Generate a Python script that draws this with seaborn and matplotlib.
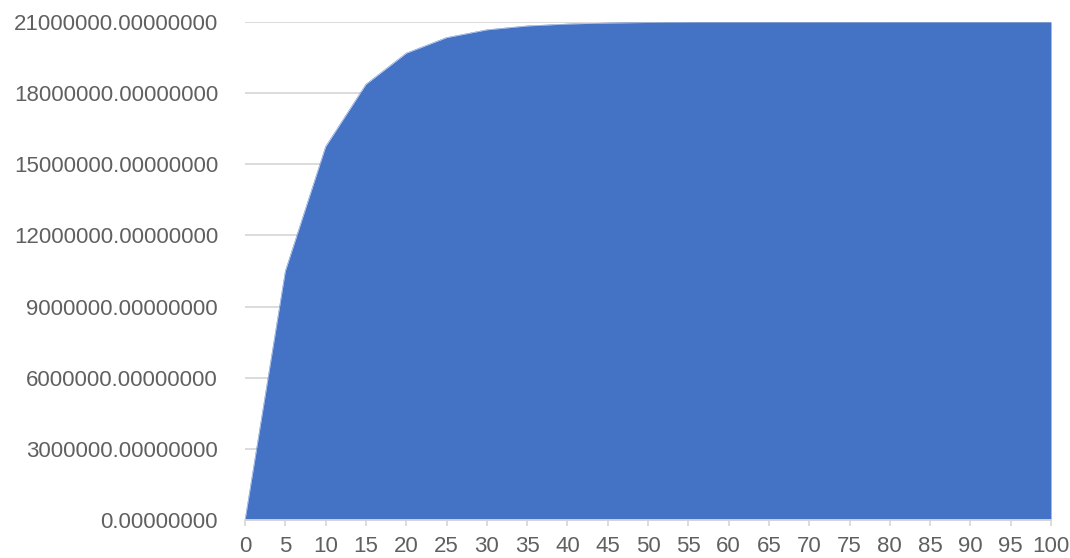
import matplotlib
matplotlib.use("Agg")
import matplotlib.pyplot as plt
import seaborn as sns
import pandas as pd

# Cumulative supply at each step
steps = [0, 5, 10, 15, 20, 25, 30, 35, 40, 45, 50, 55, 60, 65, 70, 75, 80, 85, 90, 95, 100]
supply = [0.0, 10500000.0, 15750000.0, 18375000.0, 19687500.0, 20343750.0,
          20671875.0, 20835937.5, 20917968.75, 20958984.375, 20979492.1875,
          20989746.09, 20994873.05, 20997436.52, 20998718.26, 20999359.13,
          20999679.57, 20999839.78, 20999919.89, 20999959.95, 20999979.97]
y_ticks = [0, 3000000, 6000000, 9000000, 12000000, 15000000, 18000000, 21000000]

df = pd.DataFrame({"step": steps, "supply": supply})

sns.set_theme(style="white")
plt.rcParams["font.family"] = ["Liberation Sans", "DejaVu Sans"]

fig = plt.figure(figsize=(10.7, 5.58), dpi=100)
ax = fig.add_axes([245 / 1070, 1 - 520 / 558, (1051 - 245) / 1070, (520 - 22) / 558])

fill_color = "#4472C4"
sns.lineplot(data=df, x="step", y="supply", ax=ax, color=fill_color, linewidth=0.3, zorder=3)
ax.fill_between(df["step"], df["supply"], 0, color=fill_color, linewidth=0, zorder=2)

ax.set_xlim(0, 100)
ax.set_ylim(0, 21000000)
ax.set_xticks(steps)
ax.set_xticklabels([str(s) for s in steps])
ax.set_yticks(y_ticks)
ax.set_yticklabels([f"{v:.8f}" for v in y_ticks])
ax.set_xlabel("")
ax.set_ylabel("")

text_color = "#606060"
grid_color = "#D9D9D9"
ax.yaxis.grid(True, color=grid_color, linewidth=1.3, zorder=0)
ax.set_axisbelow(True)
for side in ["top", "right", "left"]:
    ax.spines[side].set_visible(False)
ax.spines["bottom"].set_color(grid_color)
ax.spines["bottom"].set_linewidth(1.3)
ax.spines["bottom"].set_zorder(3)

ax.tick_params(axis="x", which="both", bottom=True, length=4.3, width=1.3,
               color=grid_color, labelcolor=text_color, labelsize=16, pad=7.5)
ax.tick_params(axis="y", which="both", left=False, length=0, labelcolor=text_color,
               labelsize=16, pad=19.4)

fig.savefig("out.png", dpi=100)
